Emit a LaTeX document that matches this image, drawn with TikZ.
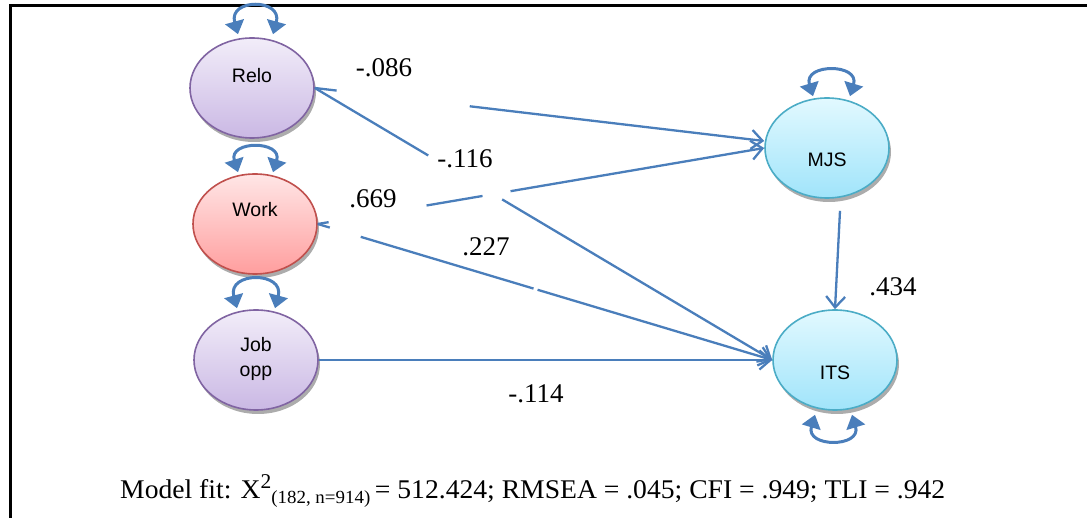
\documentclass[tikz,border=0pt]{standalone}
\usepackage{fontspec}
\usepackage{graphicx}
\setmainfont{Liberation Serif}
\newfontfamily\nodefont{Liberation Sans}
\usetikzlibrary{shapes.geometric,arrows.meta,shadows}

\definecolor{linkblue}{RGB}{74,126,187}
\definecolor{purptop}{RGB}{242,237,249}
\definecolor{purpbot}{RGB}{202,184,228}
\definecolor{purpline}{RGB}{128,100,162}
\definecolor{redtop}{RGB}{255,230,230}
\definecolor{redbot}{RGB}{255,158,158}
\definecolor{redline}{RGB}{192,80,77}
\definecolor{cyantop}{RGB}{226,249,255}
\definecolor{cyanbot}{RGB}{160,228,250}
\definecolor{cyanline}{RGB}{75,172,198}

\tikzset{
  latent/.style={ellipse, line width=1.6pt, minimum width=124pt, minimum height=100pt,
    inner sep=0pt,
    drop shadow={shadow xshift=2pt, shadow yshift=-4pt, fill=black!50, opacity=0.65}},
  purplevar/.style={latent, draw=purpline, top color=purptop, bottom color=purpbot},
  redvar/.style={latent, draw=redline, top color=redtop, bottom color=redbot},
  cyanvar/.style={latent, draw=cyanline, top color=cyantop, bottom color=cyanbot},
  vartext/.style={font=\nodefont\fontsize{19.5}{25}\selectfont, inner sep=0pt, align=center},
  coef/.style={font=\fontsize{27}{30}\selectfont, inner sep=0pt},
  effect/.style={draw=linkblue, line width=2.3pt, -{Straight Barb[length=11pt,width=19pt]}},
  varloop/.style={draw=linkblue, line width=3pt,
    {Triangle[length=13pt,width=19pt]}-{Triangle[length=13pt,width=19pt]}},
}

\begin{document}
\begin{tikzpicture}[x=1pt,y=-1pt]
\useasboundingbox (0,0) rectangle (1087,518);

% frame
\draw[line width=2.5pt, black] (1087,5.3) -- (10.5,5.3) -- (10.5,518);

% variables
\node[purplevar] (relo) at (252,88) {};
\node[redvar]    (work) at (255,224) {};
\node[purplevar] (job)  at (256,360) {};
\node[cyanvar]   (mjs)  at (827,148) {};
\node[cyanvar]   (its)  at (835,360) {};

\node[vartext] (relotext) at (252,76)  {Relo};
\node[vartext] (worktext) at (255,210) {Work};
\node[vartext] (jobtext)  at (256,359) {Job\\opp};
\node[vartext] (mjstext)  at (827,160) {MJS};
\node[vartext] (itstext)  at (835,373) {ITS};

% residual variances
\draw[varloop] ([xshift=-14pt,yshift=3pt]relo.north) .. controls +(-10,-36) and +(10,-36) .. ([xshift=21pt,yshift=3pt]relo.north);
\draw[varloop] ([xshift=-17pt,yshift=1pt]work.north) .. controls +(-10,-32) and +(10,-32) .. ([xshift=18pt,yshift=1pt]work.north);
\draw[varloop] ([xshift=-19pt,yshift=1pt]job.north) .. controls +(-10,-37) and +(10,-37) .. ([xshift=19pt,yshift=1pt]job.north);
\draw[varloop] ([xshift=-14pt,yshift=1pt]mjs.north) .. controls +(-10,-33) and +(10,-33) .. ([xshift=23pt,yshift=1pt]mjs.north);
\draw[varloop] ([xshift=-20pt,yshift=-4pt]its.south) .. controls +(-10,33) and +(10,33) .. ([xshift=17pt,yshift=-4pt]its.south);

% structural paths (broken where the coefficients sit)
\draw[effect, dash pattern=on 22pt off 134pt on 1000pt] (relo.east) -- ([yshift=7pt]mjs.west);
\draw[effect, dash pattern=on 132pt off 86pt on 1000pt] (relo.east) -- (its.west);
\draw[effect, dash pattern=on 11pt off 99.3pt on 56.8pt off 28.4pt on 1000pt] (work.east) -- (mjs.west);
\draw[effect, dash pattern=on 12.5pt off 32.3pt on 180.4pt off 4.2pt on 1000pt] (work.east) -- (its.west);
\draw[effect] (job.east) -- (its.west);
\draw[effect] ([xshift=13pt,yshift=-12pt]mjs.south) -- (its.north);

% coefficients
\node[coef] (c1) at (384,68)  {-.086};
\node[coef] (c2) at (465,159) {-.116};
\node[coef] (c3) at (373,199) {.669};
\node[coef] (c4) at (486,247) {.227};
\node[coef] (c5) at (893,287) {.434};
\node[coef] (c6) at (536,394) {-.114};

% fit indices
\node[anchor=base west, inner sep=0pt] (fit) at (120,498) {\resizebox{825pt}{\height}{\fontsize{27}{32}\selectfont Model fit: X\raisebox{10pt}{\fontsize{21}{21}\selectfont 2}\raisebox{-5pt}{\fontsize{18.5}{19}\selectfont (182, n=914)}\,= 512.424; RMSEA = .045; CFI = .949; TLI = .942}};
\end{tikzpicture}
\end{document}
